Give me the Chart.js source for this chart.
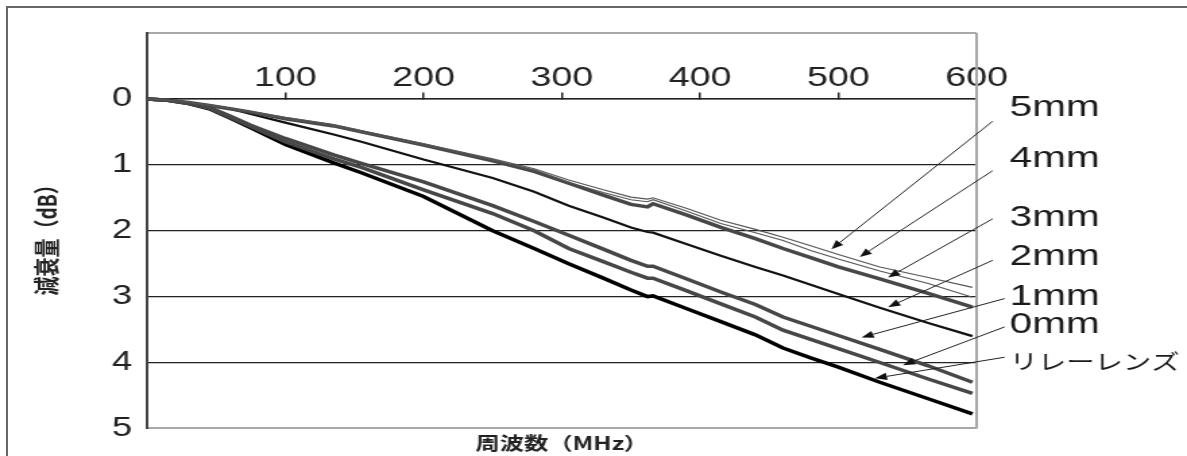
<!DOCTYPE html>
<html>
<head>
<meta charset="utf-8">
<script src="https://cdn.jsdelivr.net/npm/chart.js@4.4.1/dist/chart.umd.min.js"></script>
<style>
html, body { margin: 0; padding: 0; background: #fff; overflow: hidden; }
#frame { position: absolute; left: 6px; top: 6px; width: 1300px; height: 600px; border: 2px solid #666; }
/* the original picture is stretched sideways, so the canvas is too */
#c { position: absolute; left: 0; top: 0; transform: scaleX(1.348864); transform-origin: 0 0; }
</style>
</head>
<body>
<div id="frame"></div>
<canvas id="c" width="880" height="456"></canvas>
<script>
// frequency sample points (MHz)
const freqMHz = [0, 15, 30, 45, 60, 75, 100, 135, 155, 200, 250, 280, 305, 330, 350, 362, 366, 390, 415, 440, 460, 480, 500, 530, 565, 597];

// attenuation (dB) per gap
const loss5mm  = [0, 0.02, 0.05, 0.09, 0.14, 0.19, 0.28, 0.39, 0.48, 0.68, 0.91, 1.06, 1.23, 1.38, 1.49, 1.52, 1.50, 1.66, 1.84, 1.98, 2.10, 2.23, 2.36, 2.55, 2.71, 2.86];
const loss4mm  = [0, 0.02, 0.055, 0.10, 0.15, 0.20, 0.30, 0.41, 0.50, 0.70, 0.93, 1.08, 1.27, 1.42, 1.53, 1.56, 1.53, 1.70, 1.89, 2.03, 2.15, 2.30, 2.43, 2.61, 2.80, 3.01];
const loss3mm  = [0, 0.02, 0.055, 0.10, 0.15, 0.20, 0.30, 0.41, 0.50, 0.70, 0.94, 1.10, 1.28, 1.46, 1.60, 1.64, 1.59, 1.76, 1.95, 2.12, 2.27, 2.41, 2.55, 2.73, 2.95, 3.16];
const loss2mm  = [0, 0.02, 0.055, 0.10, 0.15, 0.23, 0.36, 0.54, 0.65, 0.92, 1.20, 1.41, 1.62, 1.80, 1.95, 2.02, 2.03, 2.20, 2.38, 2.55, 2.68, 2.82, 2.96, 3.17, 3.40, 3.60];
const loss1mm  = [0, 0.02, 0.065, 0.13, 0.26, 0.40, 0.60, 0.85, 0.98, 1.26, 1.62, 1.86, 2.07, 2.28, 2.45, 2.54, 2.54, 2.73, 2.93, 3.12, 3.31, 3.45, 3.59, 3.80, 4.05, 4.30];
const loss0mm  = [0, 0.02, 0.07, 0.14, 0.28, 0.42, 0.65, 0.91, 1.04, 1.38, 1.74, 2.00, 2.27, 2.47, 2.63, 2.72, 2.72, 2.91, 3.11, 3.31, 3.51, 3.65, 3.79, 4.00, 4.25, 4.47];
const lossRelay = [0, 0.02, 0.07, 0.15, 0.29, 0.44, 0.69, 0.97, 1.12, 1.48, 2.00, 2.27, 2.50, 2.72, 2.90, 3.00, 2.99, 3.18, 3.38, 3.58, 3.78, 3.93, 4.07, 4.30, 4.55, 4.78];

const seriesNames = ['5mm', '4mm', '3mm', '2mm', '1mm', '0mm', 'リレーレンズ'];
const seriesData = [loss5mm, loss4mm, loss3mm, loss2mm, loss1mm, loss0mm, lossRelay];
const lineColors = ['#555', '#555', '#474747', '#111', '#474747', '#474747', '#000'];
const lineWidths = [1.1, 1.1, 3.5, 2.2, 3.5, 3.5, 3.5];

// arrow call-outs (MHz / dB)
const tipMHz  = [495, 515.5, 536, 536, 516.8, 546.8, 526.4];
const tipDb   = [2.28, 2.40, 2.71, 3.16, 3.62, 4.04, 4.24];
const tailMHz = [611.6, 611.6, 611.6, 611.6, 620.3, 620.3, 620.3];
const tailDb  = [0.34, 1.09, 1.82, 2.45, 3.03, 3.46, 3.92];
const labelMHz = 624;
const labelDb = [0.14, 0.91, 1.80, 2.40, 3.00, 3.43, 3.98];

const datasets = seriesData.map((vals, i) => ({
    label: seriesNames[i],
    data: vals.map((v, j) => ({ x: freqMHz[j], y: v })),
    borderColor: lineColors[i],
    borderWidth: lineWidths[i],
    pointRadius: 0,
    tension: 0,
    fill: false
}));

const plotFrame = {
    id: 'plotFrame',
    beforeDatasetsDraw(chart) {
        const { ctx, chartArea: a } = chart;
        ctx.save();
        ctx.strokeStyle = '#a8a8a8';
        ctx.lineWidth = 2;
        ctx.beginPath();
        ctx.moveTo(a.right, a.top);
        ctx.lineTo(a.right, a.bottom);
        ctx.stroke();
        ctx.restore();
    }
};

const arrowNotes = {
    id: 'arrowNotes',
    afterDatasetsDraw(chart) {
        const { ctx } = chart;
        const xs = chart.scales.x, ys = chart.scales.y;
        ctx.save();
        ctx.strokeStyle = '#222';
        ctx.lineWidth = 1;
        seriesNames.forEach((name, i) => {
            const x1 = xs.getPixelForValue(tailMHz[i]), y1 = ys.getPixelForValue(tailDb[i]);
            const x2 = xs.getPixelForValue(tipMHz[i]), y2 = ys.getPixelForValue(tipDb[i]);
            const ang = Math.atan2(y2 - y1, x2 - x1);
            const len = 9, half = 3.6;
            const bx = x2 - Math.cos(ang) * len, by = y2 - Math.sin(ang) * len;
            ctx.beginPath();
            ctx.moveTo(x1, y1);
            ctx.lineTo(bx, by);
            ctx.stroke();
            ctx.fillStyle = '#111';
            ctx.beginPath();
            ctx.moveTo(x2, y2);
            ctx.lineTo(bx - Math.sin(ang) * half, by + Math.cos(ang) * half);
            ctx.lineTo(bx + Math.sin(ang) * half, by - Math.cos(ang) * half);
            ctx.closePath();
            ctx.fill();

            ctx.fillStyle = '#1a1a1a';
            ctx.textAlign = 'left';
            ctx.textBaseline = 'middle';
            ctx.font = i === 6 ? '21px "Noto Sans CJK JP"' : '30px "Liberation Sans"';
            ctx.fillText(name, xs.getPixelForValue(labelMHz), ys.getPixelForValue(labelDb[i]));
        });
        ctx.restore();
    }
};

new Chart(document.getElementById('c'), {
    type: 'line',
    data: { datasets },
    plugins: [plotFrame, arrowNotes],
    options: {
        responsive: false,
        animation: false,
        layout: { padding: { left: 0, right: 156, top: 33, bottom: 0 } },
        plugins: {
            legend: { display: false },
            tooltip: { enabled: false },
            title: {
                display: true,
                text: '周波数（MHz）',
                position: 'bottom',
                fullSize: false,
                color: '#222',
                font: { family: '"Noto Sans CJK JP"', size: 18, weight: 'bold' },
                padding: { top: 4, bottom: 2 }
            }
        },
        scales: {
            x: {
                type: 'linear',
                min: 0,
                max: 600,
                position: { y: 0 },
                ticks: {
                    stepSize: 100,
                    padding: -30,
                    maxRotation: 0,
                    autoSkip: false,
                    color: '#222',
                    font: { family: '"Liberation Sans"', size: 28 },
                    callback: v => (v === 0 ? '' : v)
                },
                grid: { drawOnChartArea: false, drawTicks: true, tickLength: -7, color: '#222', lineWidth: 1.5 },
                border: { color: '#222', width: 1.5 }
            },
            y: {
                type: 'linear',
                min: -1,
                max: 5,
                reverse: true,
                afterFit(scale) { scale.width = 109; },
                ticks: {
                    stepSize: 1,
                    padding: 11,
                    color: '#222',
                    font: { family: '"Liberation Sans"', size: 27 },
                    callback: v => (v < 0 ? '' : v)
                },
                grid: {
                    drawTicks: false,
                    color: c => (c.tick && (c.tick.value === -1 || c.tick.value === 5) ? '#a8a8a8' : '#222'),
                    lineWidth: c => (c.tick && (c.tick.value === -1 || c.tick.value === 5) ? 2 : 1.2)
                },
                border: { color: '#444', width: 2 },
                title: {
                    display: true,
                    text: '減衰量（dB）\u2002',
                    color: '#222',
                    font: { family: '"Noto Sans CJK JP"', size: 19, weight: 'bold' },
                    padding: { top: 23, bottom: 0 }
                }
            }
        }
    }
});
</script>
</body>
</html>
